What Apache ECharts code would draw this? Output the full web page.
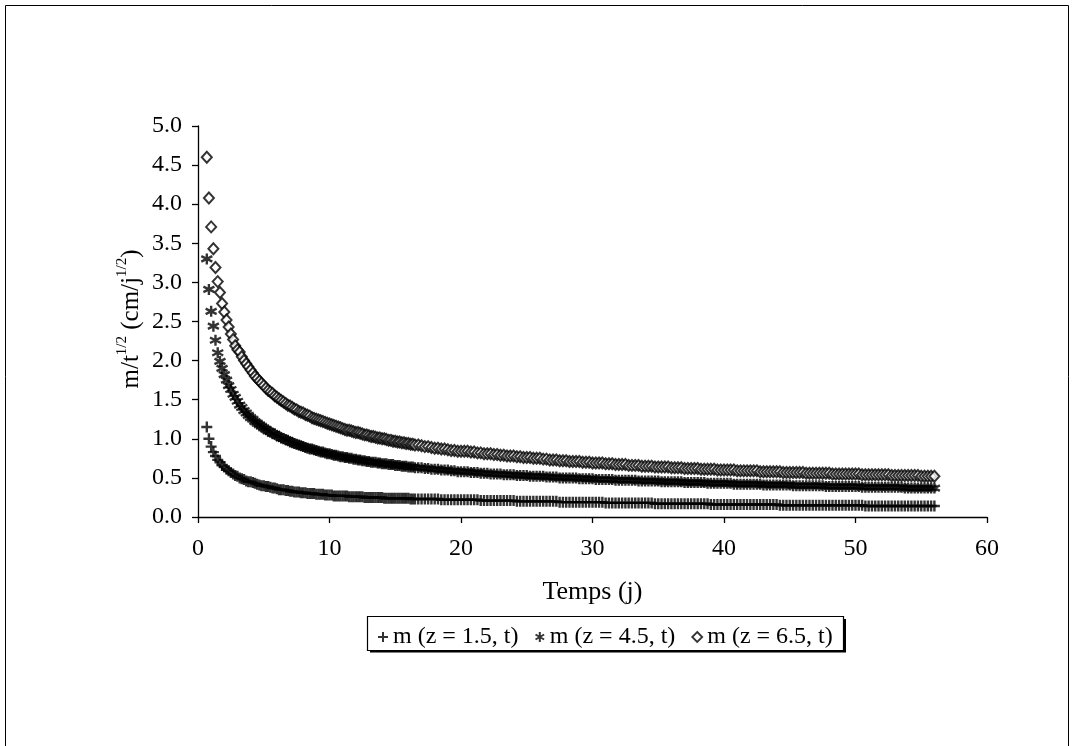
<!DOCTYPE html>
<html><head><meta charset="utf-8">
<script src="https://cdn.jsdelivr.net/npm/echarts@6/dist/echarts.min.js"></script>
<style>html,body{margin:0;padding:0;background:#fff}#c{width:1075px;height:746px}</style>
</head><body><div id="c"></div><script>
// time (days)
const times = [
0.67,0.83,1,1.17,1.33,1.5,1.67,1.83,2,2.17,2.33,2.5,2.67,2.83,3,
3.17,3.33,3.5,3.67,3.83,4, 4.17,4.33,4.5,4.67,4.83,5, 5.17,5.33,5.5,5.67,5.83,6, 6.17,6.33,6.5,6.67,6.83,7, 7.17,7.33,7.5,7.67,7.83,8, 8.17,8.33,8.5,8.67,8.83,9, 9.17,9.33,9.5,9.67,9.83,10,
10.17,10.33,10.5,10.67,10.83,11, 11.17,11.33,11.5,11.67,11.83,12, 12.17,12.33,12.5,12.67,12.83,13, 13.17,13.33,13.5,13.67,13.83,14, 14.17,14.33,14.5,14.67,14.83,15, 15.17,15.33,15.5,15.67,15.83,16, 16.17,16.33,16.5,
16.75,17, 17.25,17.5,17.75,18, 18.25,18.5,18.75,19, 19.25,19.5,19.75,20,
20.25,20.5,20.75,21, 21.25,21.5,21.75,22, 22.25,22.5,22.75,23, 23.25,23.5,23.75,24, 24.25,24.5,24.75,25, 25.25,25.5,25.75,26, 26.25,26.5,26.75,27, 27.25,27.5,27.75,28, 28.25,28.5,28.75,29, 29.25,29.5,29.75,30,
30.25,30.5,30.75,31, 31.25,31.5,31.75,32, 32.25,32.5,32.75,33, 33.25,33.5,33.75,34, 34.25,34.5,34.75,35, 35.25,35.5,35.75,36, 36.25,36.5,36.75,37, 37.25,37.5,37.75,38, 38.25,38.5,38.75,39, 39.25,39.5,39.75,40,
40.25,40.5,40.75,41, 41.25,41.5,41.75,42, 42.25,42.5,42.75,43, 43.25,43.5,43.75,44, 44.25,44.5,44.75,45, 45.25,45.5,45.75,46, 46.25,46.5,46.75,47, 47.25,47.5,47.75,48,
48.25,48.5,48.75,49, 49.25,49.5,49.75,50, 50.25,50.5,50.75,51, 51.25,51.5,51.75,52, 52.25,52.5,52.75,53, 53.25,53.5,53.75,54, 54.25,54.5,54.75,55, 55.25,55.5,55.75,56
];
// m/t^1/2 for z = 1.5
const m15 = [
1.15,1.00,0.90,0.83,0.78,0.73,0.70,0.66,0.64,0.61,0.59,0.57,0.55,0.53,0.52,
0.50,0.49,0.48,0.46,0.45,0.45, 0.44,0.43,0.42,0.41,0.40,0.40, 0.39,0.39,0.38,0.37,0.37,0.36, 0.35,0.35,0.35,0.34,0.34,0.33, 0.33,0.32,0.32,0.32,0.31,0.31, 0.31,0.30,0.30,0.30,0.30,0.29, 0.29,0.29,0.29,0.28,0.28,0.28,
0.28,0.27,0.27,0.27,0.27,0.27, 0.27,0.27,0.26,0.26,0.26,0.26, 0.26,0.26,0.26,0.25,0.25,0.25, 0.25,0.25,0.25,0.25,0.25,0.25, 0.24,0.24,0.24,0.24,0.24,0.24, 0.24,0.24,0.24,0.24,0.24,0.24, 0.23,0.23,0.23,
0.23,0.23, 0.23,0.23,0.23,0.23, 0.23,0.22,0.22,0.22, 0.22,0.22,0.22,0.22,
0.22,0.22,0.22,0.22, 0.22,0.21,0.21,0.21, 0.21,0.21,0.21,0.21, 0.21,0.21,0.21,0.21, 0.20,0.20,0.20,0.20, 0.20,0.20,0.20,0.20, 0.20,0.20,0.20,0.20, 0.20,0.19,0.19,0.19, 0.19,0.19,0.19,0.19, 0.19,0.19,0.19,0.19,
0.19,0.19,0.19,0.18, 0.18,0.18,0.18,0.18, 0.18,0.18,0.18,0.18, 0.18,0.18,0.18,0.18, 0.18,0.18,0.17,0.17, 0.17,0.17,0.17,0.17, 0.17,0.17,0.17,0.17, 0.17,0.17,0.17,0.17, 0.17,0.17,0.17,0.16, 0.16,0.16,0.16,0.16,
0.16,0.16,0.16,0.16, 0.16,0.16,0.16,0.16, 0.16,0.16,0.16,0.16, 0.16,0.16,0.16,0.16, 0.15,0.15,0.15,0.15, 0.15,0.15,0.15,0.15, 0.15,0.15,0.15,0.15, 0.15,0.15,0.15,0.15,
0.15,0.15,0.15,0.15, 0.15,0.15,0.15,0.15, 0.15,0.15,0.14,0.14, 0.14,0.14,0.14,0.14, 0.14,0.14,0.14,0.14, 0.14,0.14,0.14,0.14, 0.14,0.14,0.14,0.14, 0.14,0.14,0.14,0.14
];
// m/t^1/2 for z = 4.5
const m45 = [
3.30,2.91,2.63,2.44,2.26,2.10,1.99,1.90,1.82,1.75,1.68,1.63,1.57,1.53,1.48,
1.43,1.40,1.36,1.33,1.30,1.27, 1.25,1.22,1.20,1.18,1.16,1.14, 1.12,1.10,1.09,1.07,1.06,1.04, 1.03,1.01,1.00,0.99,0.98,0.96, 0.95,0.94,0.93,0.92,0.91,0.90, 0.89,0.88,0.87,0.87,0.86,0.85, 0.84,0.83,0.83,0.82,0.81,0.81,
0.80,0.79,0.79,0.78,0.77,0.77, 0.76,0.76,0.75,0.75,0.74,0.74, 0.73,0.73,0.72,0.72,0.71,0.71, 0.70,0.70,0.70,0.69,0.69,0.68, 0.68,0.68,0.67,0.67,0.67,0.66, 0.66,0.66,0.65,0.65,0.65,0.64, 0.64,0.64,0.63,
0.63,0.63, 0.62,0.62,0.61,0.61, 0.61,0.60,0.60,0.60, 0.59,0.59,0.58,0.58,
0.58,0.58,0.57,0.57, 0.57,0.56,0.56,0.56, 0.55,0.55,0.55,0.55, 0.54,0.54,0.54,0.54, 0.53,0.53,0.53,0.53, 0.52,0.52,0.52,0.52, 0.52,0.51,0.51,0.51, 0.51,0.50,0.50,0.50, 0.50,0.50,0.50,0.49, 0.49,0.49,0.49,0.49,
0.48,0.48,0.48,0.48, 0.48,0.48,0.47,0.47, 0.47,0.47,0.47,0.47, 0.47,0.46,0.46,0.46, 0.46,0.46,0.46,0.46, 0.45,0.45,0.45,0.45, 0.45,0.45,0.45,0.44, 0.44,0.44,0.44,0.44, 0.44,0.44,0.43,0.43, 0.43,0.43,0.43,0.43,
0.43,0.43,0.42,0.42, 0.42,0.42,0.42,0.42, 0.42,0.42,0.42,0.41, 0.41,0.41,0.41,0.41, 0.41,0.41,0.41,0.41, 0.40,0.40,0.40,0.40, 0.40,0.40,0.40,0.40, 0.40,0.40,0.39,0.39,
0.39,0.39,0.39,0.39, 0.39,0.39,0.39,0.39, 0.39,0.38,0.38,0.38, 0.38,0.38,0.38,0.38, 0.38,0.38,0.38,0.38, 0.38,0.38,0.37,0.37, 0.37,0.37,0.37,0.37, 0.37,0.37,0.37,0.37
];
// m/t^1/2 for z = 6.5
const m65 = [
4.60,4.08,3.71,3.43,3.19,3.01,2.87,2.73,2.62,2.52,2.43,2.34,2.27,2.19,2.14,
2.11,2.05,2.00,1.96,1.92,1.88, 1.84,1.80,1.77,1.74,1.71,1.68, 1.65,1.62,1.60,1.58,1.55,1.53, 1.51,1.49,1.47,1.45,1.43,1.42, 1.40,1.38,1.37,1.35,1.34,1.33, 1.31,1.30,1.29,1.27,1.26,1.25, 1.24,1.23,1.22,1.21,1.20,1.19,
1.18,1.17,1.16,1.15,1.14,1.13, 1.12,1.11,1.11,1.10,1.09,1.08, 1.08,1.07,1.06,1.05,1.05,1.04, 1.03,1.03,1.02,1.01,1.01,1.00, 1.00,0.99,0.98,0.98,0.97,0.97, 0.96,0.96,0.95,0.95,0.94,0.94, 0.93,0.93,0.92,
0.92,0.91, 0.90,0.90,0.89,0.88, 0.88,0.87,0.87,0.86, 0.85,0.85,0.84,0.84,
0.84,0.84,0.83,0.83, 0.82,0.82,0.81,0.81, 0.81,0.80,0.80,0.79, 0.79,0.78,0.78,0.78, 0.77,0.77,0.76,0.76, 0.76,0.75,0.75,0.75, 0.74,0.74,0.73,0.73, 0.73,0.72,0.72,0.72, 0.71,0.71,0.71,0.71, 0.70,0.70,0.70,0.69,
0.69,0.69,0.69,0.68, 0.68,0.68,0.67,0.67, 0.67,0.67,0.66,0.66, 0.66,0.66,0.65,0.65, 0.65,0.65,0.64,0.64, 0.64,0.64,0.64,0.63, 0.63,0.63,0.63,0.62, 0.62,0.62,0.62,0.62, 0.61,0.61,0.61,0.61, 0.61,0.60,0.60,0.60,
0.60,0.60,0.60,0.59, 0.59,0.59,0.59,0.59, 0.59,0.59,0.58,0.58, 0.58,0.58,0.58,0.58, 0.58,0.57,0.57,0.57, 0.57,0.57,0.57,0.57, 0.56,0.56,0.56,0.56, 0.56,0.56,0.56,0.56,
0.55,0.55,0.55,0.55, 0.55,0.55,0.55,0.55, 0.55,0.54,0.54,0.54, 0.54,0.54,0.54,0.54, 0.54,0.54,0.53,0.53, 0.53,0.53,0.53,0.53, 0.53,0.53,0.53,0.52, 0.52,0.52,0.52,0.52
];
const seriesNames = ['m (z = 1.5, t)', 'm (z = 4.5, t)', 'm (z = 6.5, t)'];
const xTitle = 'Temps (j)';

const FONT = 'Liberation Serif';
const plusPath = 'path://M5,0L5,10M0,5L10,5';
const starPath = 'path://M5,0L5,10M0.7,2.5L9.3,7.5M0.7,7.5L9.3,2.5';
const diamondPath = 'path://M5,0L10,5L5,10L0,5Z';

function pts(vals) {
  const n = Math.min(times.length, vals.length);
  const out = [];
  for (let i = 0; i < n; i++) out.push([times[i], vals[i]]);
  return out;
}

const chart = echarts.init(document.getElementById('c'), null, {renderer: 'canvas'});
chart.setOption({
  animation: false,
  backgroundColor: '#fff',
  grid: {left: 198, right: 88, top: 126, bottom: 229},
  xAxis: {
    type: 'value', min: 0, max: 60, interval: 10,
    name: xTitle, nameLocation: 'middle', nameGap: 62,
    nameTextStyle: {fontFamily: FONT, fontSize: 26, color: '#000'},
    axisLine: {lineStyle: {color: '#000', width: 1.3}},
    axisTick: {show: true, length: 6, lineStyle: {color: '#000', width: 1.3}},
    axisLabel: {fontFamily: FONT, fontSize: 24, color: '#000', margin: 20},
    splitLine: {show: false}
  },
  yAxis: {
    type: 'value', min: 0, max: 5, interval: 0.5,
    axisLine: {show: true, lineStyle: {color: '#000', width: 1.3}},
    axisTick: {show: true, length: 6, lineStyle: {color: '#000', width: 1.3}},
    axisLabel: {fontFamily: FONT, fontSize: 24, color: '#000', margin: 16,
      formatter: v => v.toFixed(1)},
    splitLine: {show: false}
  },
  legend: {
    left: 372, top: 620, itemWidth: 10, itemHeight: 10, itemGap: 16,
    textStyle: {fontFamily: FONT, fontSize: 24, color: '#000'},
    data: [
      {name: seriesNames[0], icon: plusPath, itemStyle: {color: '#000', borderColor: '#000', borderWidth: 2}},
      {name: seriesNames[1], icon: starPath, itemStyle: {color: '#000', borderColor: '#000', borderWidth: 2}},
      {name: seriesNames[2], icon: diamondPath, itemStyle: {color: '#fff', borderColor: '#000', borderWidth: 1.8}}
    ]
  },
  series: [
    {type: 'scatter', name: seriesNames[0], data: pts(m15), symbol: plusPath, symbolSize: 11,
      itemStyle: {color: '#000', borderColor: '#000', borderWidth: 2.4}},
    {type: 'scatter', name: seriesNames[1], data: pts(m45), symbol: starPath, symbolSize: 11,
      itemStyle: {color: '#000', borderColor: '#000', borderWidth: 2.4}},
    {type: 'scatter', name: seriesNames[2], data: pts(m65), symbol: diamondPath, symbolSize: [10, 11],
      itemStyle: {color: '#fff', borderColor: '#000', borderWidth: 2}}
  ],
  graphic: [
    {type: 'rect', shape: {x: 5.5, y: 5.5, width: 1063, height: 760}, style: {fill: 'none', stroke: '#000', lineWidth: 1}, silent: true, z: -1},
    {type: 'rect', shape: {x: 367.5, y: 616.5, width: 476, height: 34}, style: {fill: 'none', stroke: '#000', lineWidth: 1.2}, silent: true},
    {type: 'polyline', shape: {points: [[370, 651.5], [845, 651.5], [845, 619]]}, style: {fill: 'none', stroke: '#000', lineWidth: 2}, silent: true},
    {type: 'text', x: 131, y: 319, rotation: Math.PI / 2, silent: true,
      style: {
        text: '{b|m/t}{s|1/2}{b| (cm/j}{s|1/2}{b|)}',
        align: 'center', verticalAlign: 'middle', fill: '#000',
        rich: {
          b: {fontFamily: FONT, fontSize: 25, lineHeight: 32, fill: '#000'},
          s: {fontFamily: FONT, fontSize: 15, lineHeight: 16, verticalAlign: 'top', fill: '#000'}
        }
      }}
  ]
});
</script></body></html>
